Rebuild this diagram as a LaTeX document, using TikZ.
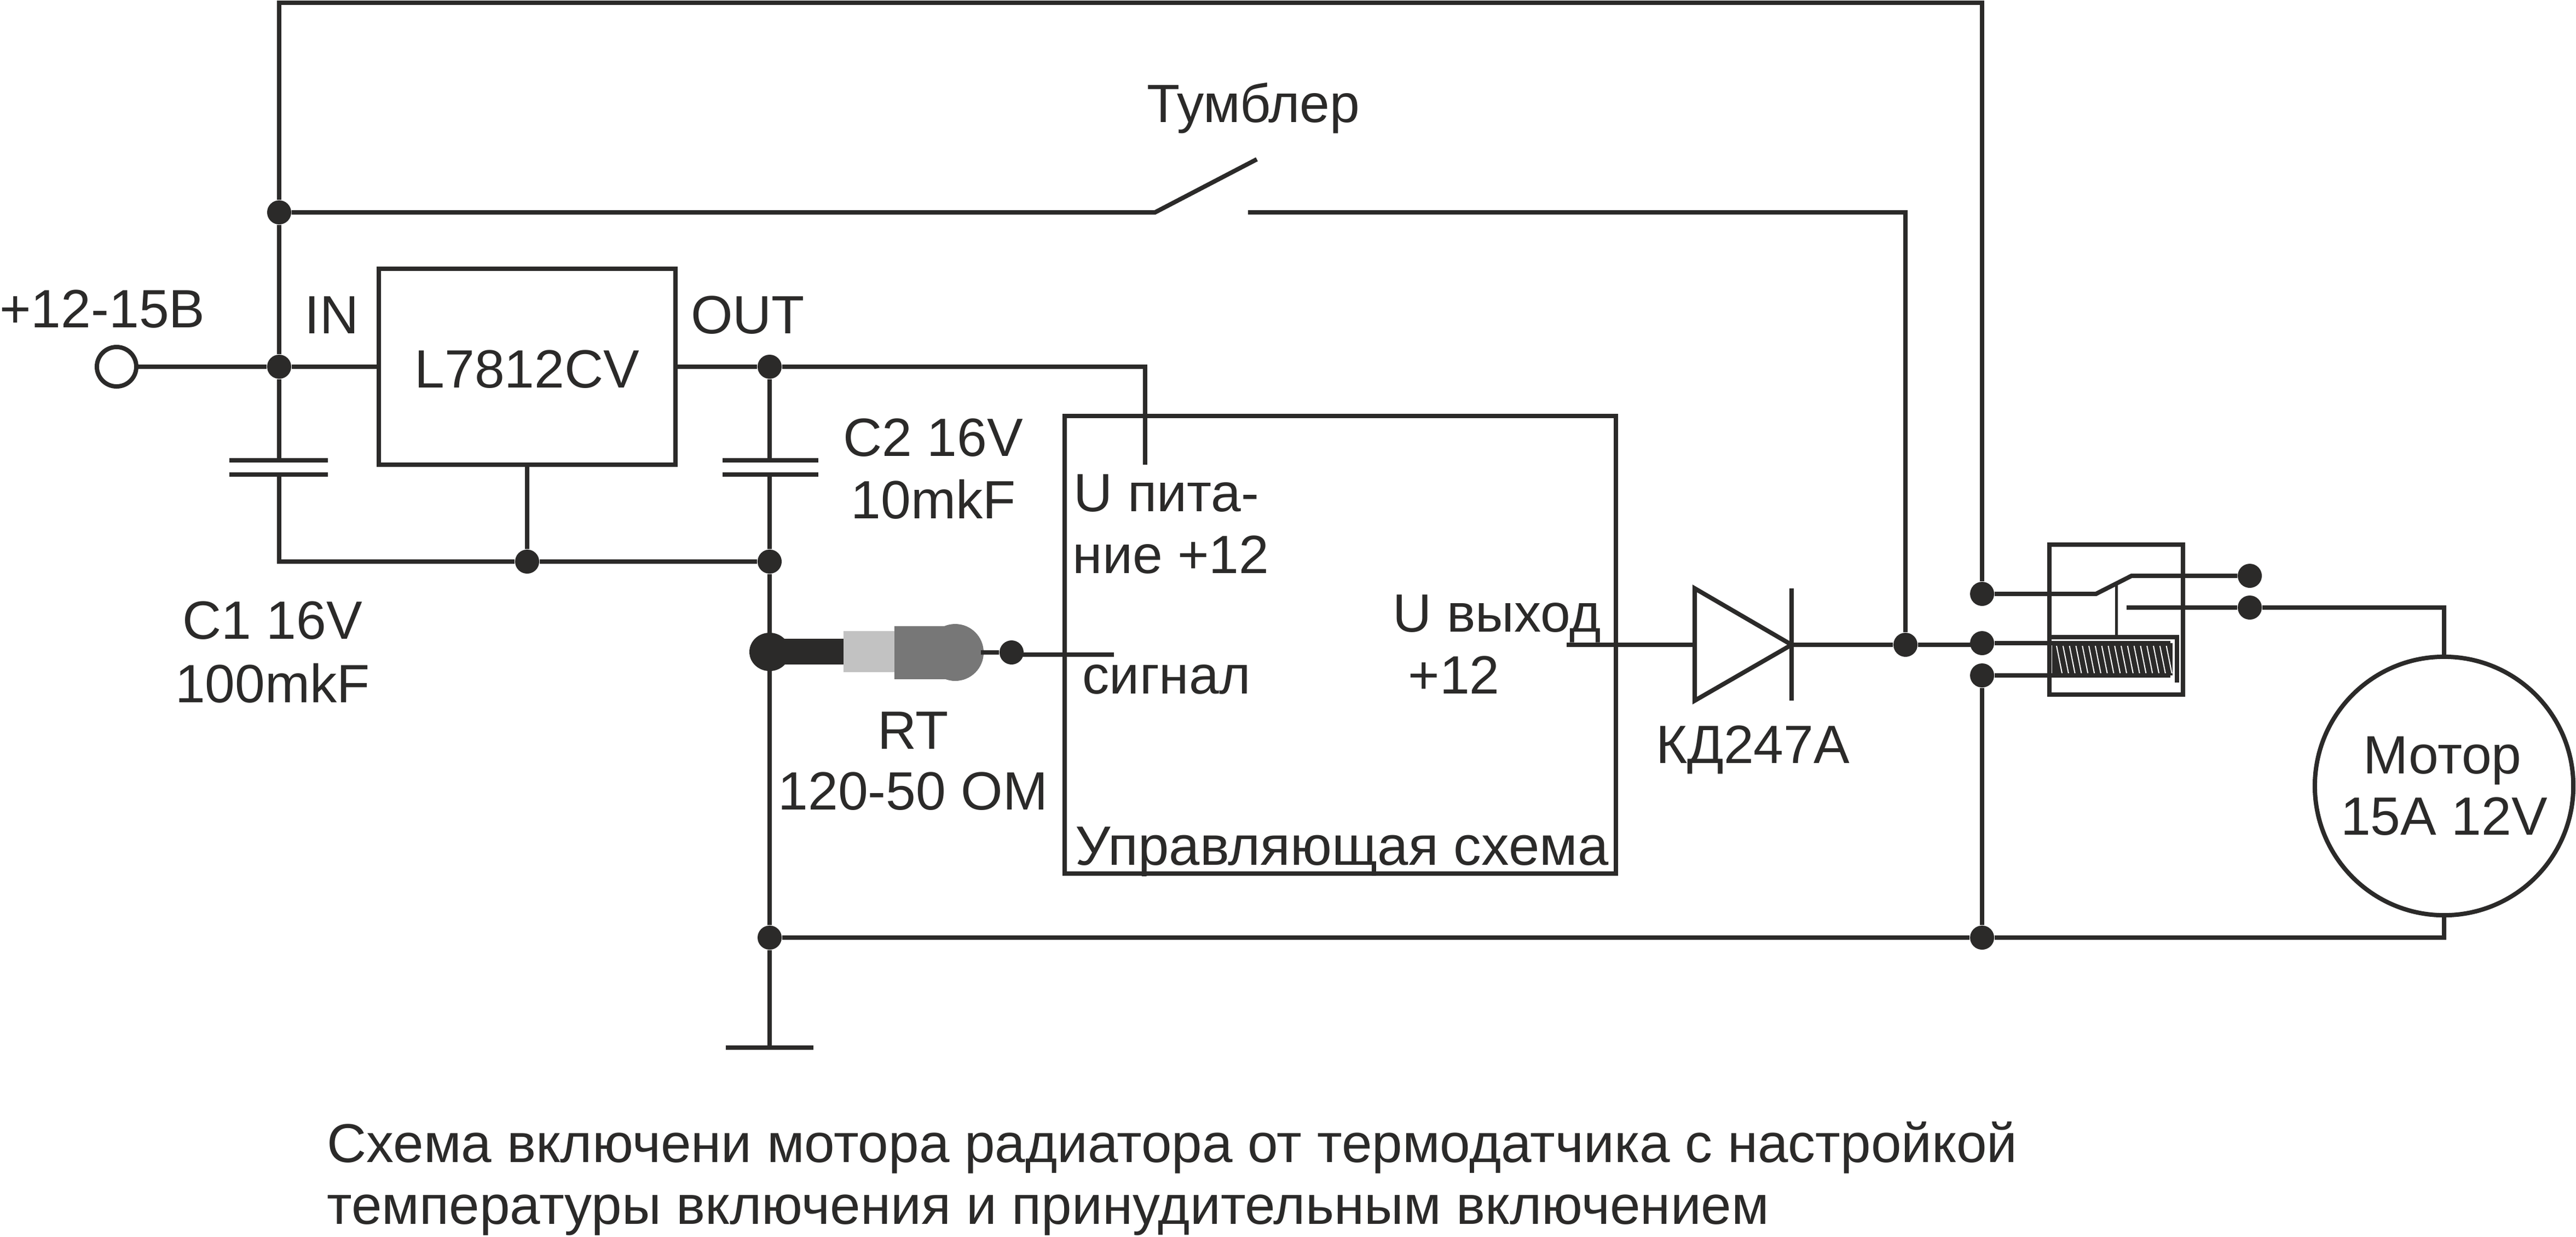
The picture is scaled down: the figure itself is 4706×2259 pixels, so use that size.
\documentclass[tikz,border=0pt]{standalone}
\usepackage{fontspec}
\setmainfont{Liberation Sans}
\definecolor{wire}{HTML}{2B2A29}
\definecolor{probedark}{HTML}{777777}
\definecolor{probelight}{HTML}{C2C2C2}
\tikzset{
  conductor/.style={draw=wire,line width=0.08cm},
  junction/.style={circle,fill=wire,inner sep=0pt,minimum size=0.44cm},
  block/.style={draw=wire,line width=0.08cm,inner sep=0pt},
  lbl/.style={text=wire,font=\fontsize{28}{30}\selectfont,inner sep=0pt},
  inlbl/.style={lbl,anchor=base west},
  caption/.style={text=wire,font=\fontsize{28.4}{30}\selectfont,inner sep=0pt,anchor=west},
}
\begin{document}
\begin{tikzpicture}[x=0.01cm,y=-0.01cm]
  \useasboundingbox (0,0) rectangle (4706,2259);
% Blocks
  \node[block,minimum width=5.41cm,minimum height=3.58cm] (reg) at (963,670) {};
  \node[block,minimum width=10.07cm,minimum height=8.36cm] (ctrl) at (2448.5,1178) {};
  \node[block,circle,minimum size=4.72cm] (motor) at (4465,1436) {};
  \node[block,minimum width=2.44cm,minimum height=2.74cm] (relay) at (3866,1132) {};
  \node[block,circle,minimum size=0.72cm] (input) at (213,670) {};

% Junctions
  \foreach \name/\i/\j in {nA/510/388, nB/510/670, nC/1406/670, nD/963/1026, nE/1406/1026,
      nF/1406/1713, nG/3621/1713, nH/3481/1178, nI/3621/1085, nJ/3621/1175, nK/3621/1234,
      nL/4110/1052, nM/4110/1110, nN/1848/1192} {
    \node[junction] (\name) at (\i,\j) {};
  }

  \coordinate (topL) at (510,5);
  \coordinate (topR) at (3621,5);
  \coordinate (swA) at (2110,388);
  \coordinate (swB) at (2296,291);
  \coordinate (swC) at (2280,388);
  \coordinate (swD) at (3481,388);
  \coordinate (vcc) at (2092,670);
  \coordinate (vccIn) at (2092,849);
  \coordinate (c1top) at (510,841);
  \coordinate (c1bot) at (510,867);
  \coordinate (c1cor) at (510,1026);
  \coordinate (c2top) at (1406,841);
  \coordinate (c2bot) at (1406,867);
  \coordinate (gnd) at (1406,1914);
  \coordinate (outA) at (2862,1178);
  \coordinate (diL) at (3096,1178);
  \coordinate (diR) at (3273,1178);
  \coordinate (coilIn) at (3621,1178);
  \coordinate (contact) at (3829,1085);
  \coordinate (lever) at (3894,1052);
  \coordinate (fixed) at (3885,1110);
  \coordinate (mTop) at (4465,1110);
  \coordinate (mBot) at (4465,1713);
  \coordinate (sigA) at (1792,1192);
  \coordinate (sigC) at (1848,1196);
  \coordinate (sigB) at (2035,1196);
  \coordinate (coilA) at (3965,1175);
  \coordinate (coilB) at (3965,1234);

% Top rail and switch
  \draw[conductor] (nA) -- (topL) -- (topR) -- (nI);
  \draw[conductor] (nA) -- (swA) -- (swB);
  \draw[conductor] (swC) -- (swD) -- (nH);
% Input side
  \draw[conductor] (input) -- (nB) -- (reg);
  \draw[conductor] (nA) -- (nB);
  \draw[conductor] (reg) -- (nC);
  \draw[conductor] (nC) -- (vcc) -- (vccIn);
  \draw[conductor] (nB) -- (c1top);
  \draw[conductor] (c1bot) -- (c1cor) -- (nD) -- (nE);
  \draw[conductor] (nC) -- (c2top);
  \draw[conductor] (c2bot) -- (nE);
  \draw[conductor] (nE) -- (nF) -- (gnd);
  \draw[conductor] (reg) -- (nD);
% Capacitor plates
  \foreach \j in {841,867} {
    \draw[conductor] (419,\j) -- (599,\j);
    \draw[conductor] (1320,\j) -- (1495,\j);
  }
  \draw[conductor] (1326,1914) -- (1486,1914);
% Bottom rail
  \draw[conductor] (nF) -- (nG) -- (mBot) -- (motor);
  \draw[conductor] (nG) -- (nK);

% Probe
  \fill[wire] (1406,1191) ellipse (37 and 35);
  \fill[wire] (1406,1167) rectangle (1541,1214);
  \fill[probelight] (1541,1153) rectangle (1634,1228);
  \fill[probedark] (1745,1192) circle (52);
  \fill[probedark] (1634,1144) rectangle (1734,1241);
  \draw[conductor] (sigA) -- (nN);
  \draw[conductor] (sigC) -- (sigB);

% Diode
  \draw[conductor] (outA) -- (diL);
  \draw[conductor,line join=miter] (3096,1075) -- (diR) -- (3096,1280) -- cycle;
  \draw[conductor] (3273,1075) -- (3273,1280);
  \draw[conductor] (diR) -- (nH) -- (coilIn);

% Relay
  \draw[conductor] (nI) -- (contact) -- (lever) -- (nL);
  \draw[conductor] (fixed) -- (nM) -- (mTop) -- (motor);
  \draw[draw=wire,line width=0.05cm] (3866,1063) -- (3866,1160);
  \draw[conductor] (3740,1164) -- (3977,1164) -- (3977,1247);
  \fill[wire] (3749,1175) rectangle (3969,1234);
  \foreach \i in {0,...,17} {
    \draw[white,line width=0.02cm] (3757+\i*11.8,1180) -- (3767+\i*11.8,1230);
  }
  \draw[conductor] (nJ) -- (coilA);
  \draw[conductor] (nK) -- (coilB);

% Labels
  \node[lbl] (lInput) at (187,565) {+12-15В};
  \node[lbl] (lIn) at (606,576) {IN};
  \node[lbl] (lOut) at (1366,576) {OUT};
  \node[lbl] (lReg) at (963,675) {L7812CV};
  \node[lbl] (lSw) at (2290,198) {Тумблер};
  \node[lbl] (lCa) at (1705,800) {C2 16V};
  \node[lbl] (lCb) at (1705,912) {10mkF};
  \node[lbl] (lCc) at (498,1134) {C1 16V};
  \node[lbl] (lCd) at (498,1248) {100mkF};
  \node[inlbl] (lPa) at (1961,934) {U пита-};
  \node[inlbl] (lPb) at (1959,1047) {ние +12};
  \node[inlbl] (lSig) at (1977,1267) {сигнал};
  \node[inlbl] (lOa) at (2544,1154) {U выход};
  \node[inlbl] (lOb) at (2572,1267) {+12};
  \node[lbl] (lDi) at (3202,1370) {КД247А};
  \node[lbl] (lRa) at (1668,1335) {RT};
  \node[lbl] (lRb) at (1668,1446) {120-50 ОМ};
  \node[inlbl,font=\fontsize{28.8}{30}\selectfont] (lCtrl) at (1964,1580) {Управляющая схема};
  \node[lbl] (lMa) at (4462,1390) {Мотор};
  \node[lbl] (lMb) at (4465,1492) {15А 12V};
  \node[caption] (lCapA) at (597,2097) {Схема включени мотора радиатора от термодатчика с настройкой};
  \node[caption] (lCapB) at (597,2220) {температуры включения и принудительным включением};
\end{tikzpicture}
\end{document}
